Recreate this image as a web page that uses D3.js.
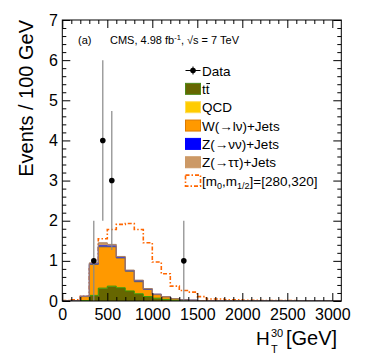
<!DOCTYPE html>
<html><head><meta charset="utf-8">
<script src="https://cdn.jsdelivr.net/npm/d3@7"></script>
<style>
html,body{margin:0;padding:0;background:#fff;}
svg{display:block;font-family:"Liberation Sans",Arial,Helvetica,sans-serif;}
</style></head>
<body>
<svg id="c" width="374" height="359"></svg>
<script>
// ---- data (events per 100 GeV bin, bin lower edges in GeV) ----
const binLow = [0,100,200,300,400,500,600,700,800,900,1000,1100,1200,1300,1400,1500,1600,1700,1800,1900,2000,2100,2200,2300,2400,2500,2600,2700,2800,2900,3000];
const binWidth = 100;
const ttbar = [0,0,0.01,0.14,0.32,0.37,0.33,0.25,0.18,0.11,0.07,0.04,0.02,0.015,0.01,0.005,0.005,0,0,0,0,0,0,0,0,0,0,0,0,0,0];
const qcd   = [0,0,0,0,0,0,0,0,0,0,0,0,0,0,0,0,0,0,0,0,0,0,0,0,0,0,0,0,0,0,0];
const wjets = [0,0,0.10,0.77,1.03,0.98,0.74,0.49,0.30,0.18,0.09,0.065,0.04,0.015,0.01,0.005,0,0,0,0,0,0,0,0,0,0,0,0,0,0,0];
const znn   = [0,0,0.01,0.02,0.03,0.02,0.02,0.02,0.03,0.01,0.01,0.005,0,0,0,0,0,0,0,0,0,0,0,0,0,0,0,0,0,0,0];
const ztt   = [0,0,0,0.02,0.07,0.04,0.02,0.01,0.01,0.01,0,0,0,0,0,0,0,0,0,0,0,0,0,0,0,0,0,0,0,0,0];
const signal= [0.01,0.03,0.12,0.8,1.55,1.78,1.91,1.93,1.78,1.45,0.97,0.68,0.37,0.26,0.22,0.11,0.05,0.05,0.03,0.03,0.02,0.02,0.01,0.01,0.01,0.01,0,0,0,0,0];
const dataX   = [350,450,550,1350];
const dataY   = [1,4,3,1];
const dataErr = [1,2,1.73,1];
const xMajor = [0,500,1000,1500,2000,2500,3000];
const yMajor = [0,1,2,3,4,5,6,7];

const stackNames  = ["ttbar","qcd","wjets","znn","ztt"];
const stackSeries = [ttbar,qcd,wjets,znn,ztt];
const fills   = ["#666600","#ffcc00","#ff9900","#0000ff","#cc9966"];
const strokes = ["#339900","#ffcc00","#666666","#4444cc","#aa8060"];

// ---- layout ----
const L=62.3, R=341.3, T=20, B=301;
const svg = d3.select("#c");
const x = d3.scaleLinear().domain([0,3100]).range([L,R]);
const y = d3.scaleLinear().domain([0,7]).range([B,T]);

function stepPts(lo, hi){
  const pts = binLow.map((b,i)=>({x:b, y0:lo[i], y1:hi[i]}));
  const n = binLow.length-1;
  pts.push({x:binLow[n]+binWidth, y0:lo[n], y1:hi[n]});
  return pts;
}

let cum = binLow.map(()=>0);
const layers = stackSeries.map(s=>{
  const lo = cum.slice();
  const hi = cum.map((c,i)=>c+s[i]);
  cum = hi;
  return {lo,hi};
});

svg.append("clipPath").attr("id","pc").append("rect")
  .attr("x",L).attr("y",T).attr("width",R-L).attr("height",B-T);
const plot = svg.append("g").attr("clip-path","url(#pc)");

// signal (dash-dot)
const sigLine = d3.line().curve(d3.curveStepAfter).x(d=>x(d.x)).y(d=>y(d.y1));
plot.append("path").datum(stepPts(signal.map(()=>0), signal))
  .attr("d",sigLine).attr("fill","none").attr("stroke","#ff6600")
  .attr("stroke-width",1.6).attr("stroke-dasharray","4,2,1.5,2");

// stack
const area = d3.area().curve(d3.curveStepAfter).x(d=>x(d.x)).y0(d=>y(d.y0)).y1(d=>y(d.y1));
const topLine = d3.line().curve(d3.curveStepAfter).x(d=>x(d.x)).y(d=>y(d.y1));
layers.forEach((ly,k)=>{
  plot.append("path").datum(stepPts(ly.lo, ly.hi)).attr("d",area).attr("fill",fills[k]).attr("stroke","none");
});
layers.forEach((ly,k)=>{
  if(k===1) return;
  plot.append("path").datum(stepPts(ly.lo, ly.hi)).attr("d",topLine).attr("fill","none")
    .attr("stroke",strokes[k]).attr("stroke-width",1);
});

// axes (inward ticks, ROOT style)
const xMinor = binLow.filter(v=>!xMajor.includes(v));
const yMinor = d3.range(0,7.001,0.2).map(v=>+v.toFixed(1)).filter(v=>!yMajor.includes(v));
function noDomain(g){ g.select(".domain").remove(); g.selectAll("line").attr("stroke","#000"); }
function lbl(g){ g.selectAll("text").attr("font-size",16).attr("fill","#000").attr("font-family","Liberation Sans, Arial, sans-serif"); }

svg.append("g").attr("transform",`translate(0,${B})`)
  .call(d3.axisBottom(x).tickValues(xMajor).tickSizeInner(-8).tickSizeOuter(0).tickPadding(7.6).tickFormat(d3.format("d")))
  .call(noDomain).call(lbl);
svg.append("g").attr("transform",`translate(0,${B})`)
  .call(d3.axisBottom(x).tickValues(xMinor).tickSizeInner(-4).tickSizeOuter(0).tickFormat(""))
  .call(noDomain);
svg.append("g").attr("transform",`translate(0,${T})`)
  .call(d3.axisTop(x).tickValues(xMajor).tickSizeInner(-8).tickSizeOuter(0).tickFormat(""))
  .call(noDomain);
svg.append("g").attr("transform",`translate(0,${T})`)
  .call(d3.axisTop(x).tickValues(xMinor).tickSizeInner(-4).tickSizeOuter(0).tickFormat(""))
  .call(noDomain);

svg.append("g").attr("transform",`translate(${L},0)`)
  .call(d3.axisLeft(y).tickValues(yMajor).tickSizeInner(-8).tickSizeOuter(0).tickPadding(4.3).tickFormat(d3.format("d")))
  .call(noDomain).call(lbl);
svg.append("g").attr("transform",`translate(${L},0)`)
  .call(d3.axisLeft(y).tickValues(yMinor).tickSizeInner(-4).tickSizeOuter(0).tickFormat(""))
  .call(noDomain);
svg.append("g").attr("transform",`translate(${R},0)`)
  .call(d3.axisRight(y).tickValues(yMajor).tickSizeInner(-8).tickSizeOuter(0).tickFormat(""))
  .call(noDomain);
svg.append("g").attr("transform",`translate(${R},0)`)
  .call(d3.axisRight(y).tickValues(yMinor).tickSizeInner(-4).tickSizeOuter(0).tickFormat(""))
  .call(noDomain);

// data points
const dg = svg.append("g");
dataX.forEach((dx,i)=>{
  dg.append("line").attr("x1",x(dx)).attr("x2",x(dx))
    .attr("y1",y(dataY[i]-dataErr[i])).attr("y2",y(dataY[i]+dataErr[i]))
    .attr("stroke","#888").attr("stroke-width",1.2);
  dg.append("circle").attr("cx",x(dx)).attr("cy",y(dataY[i])).attr("r",2.8).attr("fill","#000");
});

// frame
svg.append("rect").attr("x",L).attr("y",T).attr("width",R-L).attr("height",B-T)
  .attr("fill","none").attr("stroke","#000").attr("stroke-width",1);

// axis titles
svg.append("text").attr("transform",`translate(33,${T}) rotate(-90)`)
  .attr("text-anchor","end").attr("font-size",20).text("Events / 100 GeV");
const xt = svg.append("g");
xt.append("text").attr("x",256).attr("y",345.3).attr("font-size",19).text("H");
xt.append("text").attr("x",271).attr("y",336.5).attr("font-size",11).text("30");
xt.append("text").attr("x",271).attr("y",353).attr("font-size",11).text("T");
xt.append("text").attr("x",286).attr("y",345.3).attr("font-size",20).text("[GeV]");

// header
svg.append("text").attr("x",78).attr("y",44).attr("font-size",11).text("(a)");
const ht = svg.append("text").attr("x",110).attr("y",44).attr("font-size",11);
ht.append("tspan").text("CMS, 4.98 fb");
ht.append("tspan").attr("font-size",7.5).attr("dy",-4).text("-1");
ht.append("tspan").attr("dy",4).text(", √s = 7 TeV");

// legend
const legLabels = ["Data","tt̄","QCD","W(→lν)+Jets","Z(→νν)+Jets","Z(→ττ)+Jets","[m₀,m₁/₂]=[280,320]"];
const legY0 = 70.5, legDY = 18.35, bx = 185.5, tx = 202;
const lg = svg.append("g").attr("font-size",13.5);
lg.append("line").attr("x1",bx).attr("x2",bx+15).attr("y1",legY0).attr("y2",legY0).attr("stroke","#000");
lg.append("line").attr("x1",bx+7.5).attr("x2",bx+7.5).attr("y1",legY0-4).attr("y2",legY0+4).attr("stroke","#000");
lg.append("circle").attr("cx",bx+7.5).attr("cy",legY0).attr("r",2.8).attr("fill","#000");
lg.append("text").attr("x",tx).attr("y",legY0+5).text(legLabels[0]);
const legBoxStroke = ["#4d8a1a","#ffdd55","#dd7a00","#0000ff","#cc9966"];
stackNames.forEach((n,k)=>{
  const cy = legY0 + legDY*(k+1);
  lg.append("rect").attr("x",bx).attr("y",cy-5.5).attr("width",15).attr("height",11)
    .attr("fill",fills[k]).attr("stroke",legBoxStroke[k]).attr("stroke-width",1);
});
{
  const cy = legY0 + legDY;
  lg.append("text").attr("x",tx).attr("y",cy+5).text("tt");
  lg.append("line").attr("x1",tx+4.3).attr("x2",tx+8).attr("y1",cy-5.3).attr("y2",cy-5.3).attr("stroke","#000").attr("stroke-width",1);
}
lg.append("text").attr("x",tx).attr("y",legY0+legDY*2+5).text(legLabels[2]);
lg.append("text").attr("x",tx).attr("y",legY0+legDY*3+5).text(legLabels[3]);
lg.append("text").attr("x",tx).attr("y",legY0+legDY*4+5).text(legLabels[4]);
lg.append("text").attr("x",tx).attr("y",legY0+legDY*5+5).text(legLabels[5]);
{
  const cy = legY0 + legDY*6;
  lg.append("rect").attr("x",bx).attr("y",cy-5.5).attr("width",15).attr("height",11)
    .attr("fill","#fff").attr("stroke","#ff6600").attr("stroke-width",1.6).attr("stroke-dasharray","4,2,1.5,2");
  const t = lg.append("text").attr("x",tx).attr("y",cy+5);
  t.append("tspan").text("[m");
  t.append("tspan").attr("font-size",9).attr("dy",3).text("0");
  t.append("tspan").attr("dy",-3).text(",m");
  t.append("tspan").attr("font-size",9).attr("dy",3).text("1/2");
  t.append("tspan").attr("dy",-3).text("]=[280,320]");
}
</script>
</body></html>
